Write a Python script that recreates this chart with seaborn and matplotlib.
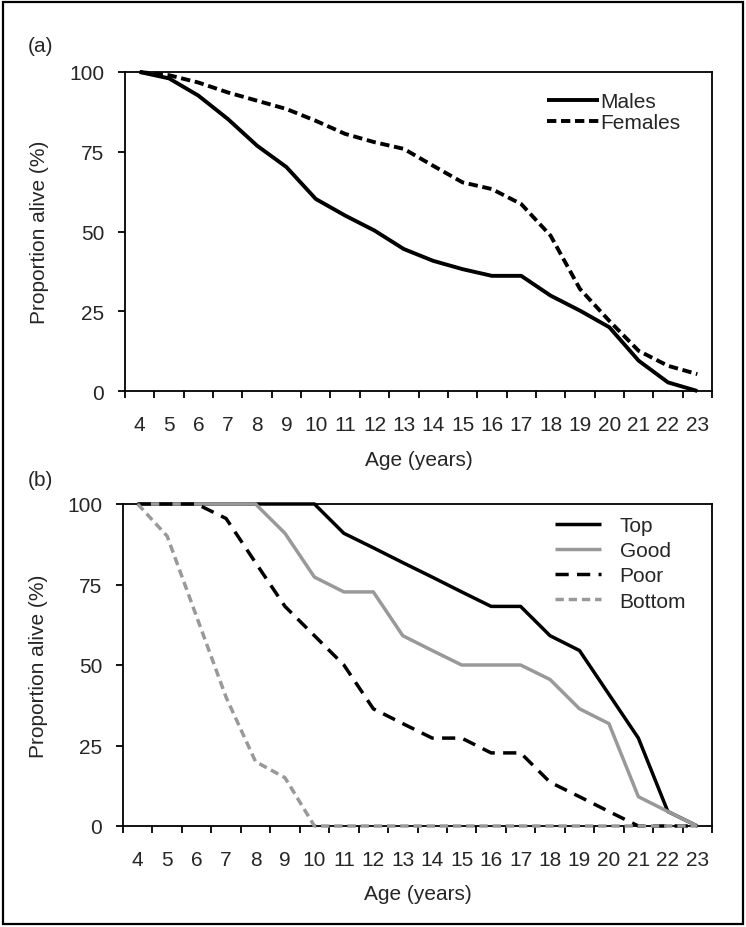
import matplotlib
matplotlib.use("Agg")
import matplotlib.pyplot as plt
import matplotlib.patches as mpatches
import seaborn as sns
import pandas as pd

# ---------------- data ----------------
ages = list(range(4, 24))
sex_labels = ["Males", "Females"]
males = [100, 98.0, 92.6, 85.3, 76.9, 70.2, 60.2, 55.0, 50.3, 44.5,
         40.8, 38.2, 36.1, 36.1, 29.9, 25.2, 20.0, 9.5, 2.7, 0]
females = [100, 99.0, 96.7, 93.6, 91.0, 88.4, 84.7, 80.6, 78.0, 75.9,
           70.6, 65.4, 63.3, 58.6, 48.7, 32.0, 22.0, 12.6, 7.9, 5.3]

quality_labels = ["Top", "Good", "Poor", "Bottom"]
top = [100, 100, 100, 100, 100, 100, 100, 90.9, 86.4, 81.8,
       77.3, 72.7, 68.2, 68.2, 59.1, 54.5, 40.9, 27.3, 4.5, 0]
good = [100, 100, 100, 100, 100, 90.9, 77.3, 72.7, 72.7, 59.1,
        54.5, 50.0, 50.0, 50.0, 45.5, 36.4, 31.8, 9.1, 4.5, 0]
poor = [100, 100, 100, 95.5, 81.8, 68.2, 59.1, 50.0, 36.4, 31.8,
        27.3, 27.3, 22.7, 22.7, 13.6, 9.1, 4.5, 0, 0, 0]
bottom = [100, 90, 65, 40, 20, 15, 0, 0, 0, 0,
          0, 0, 0, 0, 0, 0, 0, 0, 0, 0]

y_ticks = [0, 25, 50, 75, 100]

df_a = pd.DataFrame({
    "age": ages * 2,
    "pct": males + females,
    "group": [sex_labels[0]] * len(ages) + [sex_labels[1]] * len(ages),
})
df_b = pd.DataFrame({
    "age": ages * 4,
    "pct": top + good + poor + bottom,
    "group": sum([[q] * len(ages) for q in quality_labels], []),
})

# ---------------- style ----------------
sns.set_style("ticks")
plt.rcParams["font.family"] = ["Liberation Sans", "DejaVu Sans"]
FS = 15
GREY = "#999999"

fig = plt.figure(figsize=(7.46, 9.28), dpi=100)
W, H = 746, 928


def add_ax(l, r, t, b):
    return fig.add_axes([l / W, 1 - b / H, (r - l) / W, (b - t) / H])


ax1 = add_ax(125, 712, 73, 392)
ax2 = add_ax(123, 712, 505, 827)

sns.lineplot(data=df_a, x="age", y="pct", hue="group", style="group",
             hue_order=sex_labels, style_order=sex_labels,
             palette={"Males": "black", "Females": "black"},
             dashes={"Males": "", "Females": (2.4, 1.2)},
             linewidth=2.8, errorbar=None, legend=False, ax=ax1)

sns.lineplot(data=df_b, x="age", y="pct", hue="group", style="group",
             hue_order=quality_labels, style_order=quality_labels,
             palette={"Top": "black", "Good": GREY, "Poor": "black", "Bottom": GREY},
             dashes={"Top": "", "Good": "", "Poor": (3.8, 2.4), "Bottom": (2.4, 1.4)},
             linewidth=2.5, errorbar=None, legend=False, ax=ax2)

for ax in (ax1, ax2):
    for ln in ax.get_lines():
        ln.set_zorder(3)
        ln.set_clip_on(False)
        ln.set_solid_capstyle("butt")
        ln.set_dash_capstyle("butt")
    ax.set_xlim(ages[0] - 0.5, ages[-1] + 0.5)
    ax.set_ylim(0, 100)
    ax.set_yticks(y_ticks)
    ax.set_yticklabels([str(v) for v in y_ticks], fontsize=FS)
    ax.set_xticks([a - 0.5 for a in ages] + [ages[-1] + 0.5])
    ax.set_xticklabels([])
    ax.set_xticks(ages, minor=True)
    ax.set_xticklabels([str(a) for a in ages], minor=True, fontsize=FS)
    ax.tick_params(axis="x", which="major", direction="out", length=5, width=1.3, color="black")
    ax.tick_params(axis="x", which="minor", length=0, pad=17, labelsize=FS)
    ax.tick_params(axis="y", which="major", direction="out", length=5, width=1.3, pad=10,
                   color="black", labelsize=FS)
    for sp in ax.spines.values():
        sp.set_visible(True)
        sp.set_color("black")
        sp.set_linewidth(1.3)
    ax.set_xlabel("Age (years)", fontsize=FS, va="top")
    ax.set_ylabel("Proportion alive (%)", fontsize=FS)
    ax.grid(False)

ax1.xaxis.set_label_coords(0.5, -0.185)
ax2.xaxis.set_label_coords(0.5, -0.18)
ax1.yaxis.set_label_coords(-0.13, 0.5)
ax2.yaxis.set_label_coords(-0.128, 0.5)

# legends
la = ax1.get_lines()
ax1.legend(la[:2], sex_labels, loc="upper left",
           bbox_to_anchor=((547 - 125) / 587, (392 - 93) / 319),
           frameon=False, fontsize=FS, handlelength=2.5, handletextpad=0.05,
           labelspacing=0.1, borderpad=0, borderaxespad=0)
lb = ax2.get_lines()
ax2.legend(lb[:4], quality_labels, loc="upper left",
           bbox_to_anchor=((555 - 123) / 589, (827 - 517) / 322),
           frameon=False, fontsize=FS, handlelength=2.2, handletextpad=0.9,
           labelspacing=0.3, borderpad=0, borderaxespad=0)

fig.text(28 / W, 1 - 47 / H, "(a)", fontsize=FS, va="center", ha="left")
fig.text(28 / W, 1 - 481 / H, "(b)", fontsize=FS, va="center", ha="left")

fig.patches.append(mpatches.Rectangle((3 / W, 3 / H), 740 / W, 922 / H,
                                      transform=fig.transFigure, fill=False,
                                      edgecolor="black", linewidth=1.6))

fig.savefig("out.png", dpi=100)
